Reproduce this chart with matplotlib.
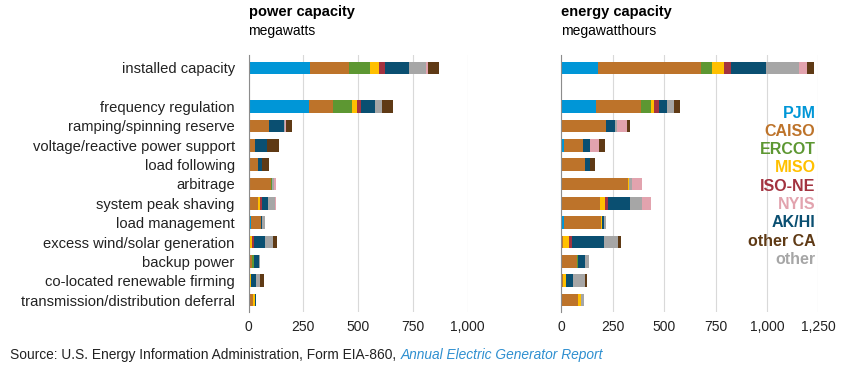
import numpy as np
import matplotlib.pyplot as plt

plt.rcParams['font.family'] = ['Liberation Sans', 'DejaVu Sans']

# rows, top to bottom ("" is the blank spacer row)
categories = ["installed capacity", "",
              "frequency regulation", "ramping/spinning reserve",
              "voltage/reactive power support", "load following", "arbitrage",
              "system peak shaving", "load management",
              "excess wind/solar generation", "backup power",
              "co-located renewable firming",
              "transmission/distribution deferral"]

# stacking order as drawn in the bars
regions = ["PJM", "CAISO", "ERCOT", "MISO", "ISO-NE", "AK/HI", "other", "NYIS", "other CA"]
colors = {"PJM": "#0096D7", "CAISO": "#BD732A", "ERCOT": "#5D9732", "MISO": "#FFC000",
          "ISO-NE": "#A33340", "NYIS": "#E2A3AE", "AK/HI": "#0A4F71",
          "other CA": "#5F3A15", "other": "#A6A6A6"}
legend_order = ["PJM", "CAISO", "ERCOT", "MISO", "ISO-NE", "NYIS", "AK/HI", "other CA", "other"]

# values per region, rows without the spacer (installed, freq, ramp, volt, follow,
# arbitrage, peak, load mgmt, excess, backup, co-located, deferral)
power_mw = {
    "PJM":      [281, 274, 0, 0, 0, 0, 0, 11, 0, 0, 2, 0],
    "CAISO":    [179, 110, 93, 31, 44, 104, 43, 46, 6, 15, 2, 20],
    "ERCOT":    [95, 89, 0, 0, 0, 5, 2, 0, 0, 8, 0, 0],
    "MISO":     [41, 21, 0, 0, 0, 0, 9, 0, 12, 0, 6, 8],
    "ISO-NE":   [28, 18, 0, 0, 0, 0, 8, 0, 9, 0, 0, 0],
    "AK/HI":    [110, 63, 67, 55, 18, 0, 29, 3, 50, 23, 23, 5],
    "other":    [76, 32, 5, 0, 0, 9, 32, 17, 34, 6, 21, 3],
    "NYIS":     [8, 0, 4, 0, 0, 6, 3, 0, 0, 0, 0, 0],
    "other CA": [52, 52, 31, 55, 31, 0, 0, 0, 21, 0, 18, 0],
}
energy_mwh = {
    "PJM":      [179, 169, 0, 11, 0, 0, 0, 15, 0, 0, 0, 0],
    "CAISO":    [500, 218, 219, 95, 115, 323, 187, 179, 10, 77, 8, 79],
    "ERCOT":    [53, 47, 0, 0, 0, 0, 0, 0, 0, 5, 0, 0],
    "MISO":     [58, 16, 0, 0, 0, 6, 24, 5, 27, 0, 16, 18],
    "ISO-NE":   [35, 23, 0, 0, 0, 0, 16, 0, 16, 0, 0, 0],
    "AK/HI":    [171, 42, 42, 35, 26, 0, 106, 8, 156, 32, 34, 0],
    "other":    [161, 32, 11, 0, 0, 16, 60, 8, 69, 23, 56, 15],
    "NYIS":     [39, 0, 45, 40, 0, 45, 44, 0, 0, 0, 0, 0],
    "other CA": [32, 31, 19, 31, 23, 0, 0, 0, 11, 0, 10, 0],
}

power_ticks = [0, 250, 500, 750, 1000]
energy_ticks = [0, 250, 500, 750, 1000, 1250]

fig = plt.figure(figsize=(8.62, 3.76), dpi=100)
ax1 = fig.add_axes([0.2883, 0.1702, 0.2543, 0.6835])
ax2 = fig.add_axes([0.6512, 0.1702, 0.2981, 0.6835])

# bar rows: position 0 for installed, skip 1, then 2..12
ypos = np.array([0] + list(range(2, len(categories))))


def draw_panel(ax, data, ticks):
    left = np.zeros(len(ypos))
    for r in regions:
        vals = np.array(data[r], dtype=float)
        ax.barh(ypos, vals, left=left, height=0.64, color=colors[r], linewidth=0)
        left += vals
    ax.set_ylim(len(categories) - 0.38, -0.67)
    ax.set_xlim(0, ticks[-1])
    ax.set_xticks(ticks)
    ax.set_xticklabels([f"{t:,}" for t in ticks], fontsize=10, color="#222222")
    ax.xaxis.grid(True, color="#D9D9D9", linewidth=0.8)
    ax.set_axisbelow(True)
    for s in ["top", "right", "bottom"]:
        ax.spines[s].set_visible(False)
    ax.spines["left"].set_color("#8C8C8C")
    ax.tick_params(axis="both", length=0, pad=6)


draw_panel(ax1, power_mw, power_ticks)
ax1.set_yticks(range(len(categories)))
ax1.set_yticklabels(categories, fontsize=10.6, color="#222222")
ax1.tick_params(axis="y", pad=10)

draw_panel(ax2, energy_mwh, energy_ticks)
ax2.set_yticks([])

# panel titles
fig.text(0.2883, 0.968, "power capacity", fontsize=10.5, fontweight="bold", va="center")
fig.text(0.2883, 0.918, "megawatts", fontsize=10, va="center")
fig.text(0.6512, 0.968, "energy capacity", fontsize=10.5, fontweight="bold", va="center")
fig.text(0.6512, 0.918, "megawatthours", fontsize=10, va="center")

# coloured legend text
for i, r in enumerate(legend_order):
    fig.text(0.946, 1 - (113 + 18.3 * i) / 376, r, color=colors[r], fontsize=11.5,
             fontweight="bold", ha="right", va="center")

# source line
src = fig.text(0.012, 0.055, "Source: U.S. Energy Information Administration, Form EIA-860, ",
               fontsize=9.9, va="center", color="#222222")
fig.canvas.draw()
bb = src.get_window_extent()
fig.text(bb.x1 / fig.bbox.width, 0.055, "Annual Electric Generator Report",
         fontsize=9.9, va="center", style="italic", color="#2E8FD0")

fig.savefig("out.png", dpi=100)
